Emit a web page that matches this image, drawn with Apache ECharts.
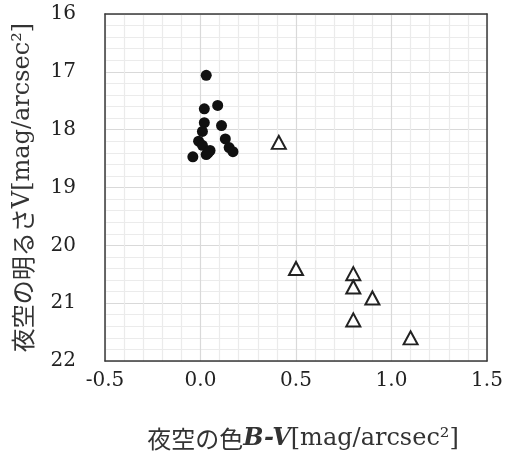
<!DOCTYPE html>
<html>
<head>
<meta charset="utf-8">
<script src="https://cdn.jsdelivr.net/npm/echarts@6/dist/echarts.min.js"></script>
<style>
html,body{margin:0;padding:0;background:#fff;}
#container{width:506px;height:465px;}
</style>
</head>
<body>
<div id="container"></div>
<script>
// 点（●）: 夜空の色 B-V, 明るさ V
var dotBV = [0.03, 0.02, 0.09, 0.02, 0.11, 0.01, 0.13, -0.01, 0.01, 0.15, 0.17, 0.05, 0.03, -0.04, 0.04];
var dotV  = [17.06, 17.64, 17.58, 17.88, 17.93, 18.03, 18.16, 18.20, 18.27, 18.31, 18.38, 18.36, 18.43, 18.47, 18.40];
// 三角（△）
var triBV = [0.41, 0.50, 0.80, 0.80, 0.90, 0.80, 1.10];
var triV  = [18.22, 20.40, 20.49, 20.72, 20.91, 21.29, 21.60];

var xMin = -0.5, xMax = 1.5, xStep = 0.5;
var yMin = 16, yMax = 22, yStep = 1;

function pairs(xs, ys){
	var out = [];
	for(var i=0;i<xs.length;i++){
		out.push([xs[i], ys[i]]);
	}
	return out;
}

var serif = '"DejaVu Serif", "Liberation Serif", serif';
var cjk = '"Noto Sans CJK JP", sans-serif';

var nameRich = {
	c: {fontFamily: cjk, fontSize: 24, color: '#333'},
	i: {fontFamily: serif, fontSize: 24, fontStyle: 'italic', fontWeight: 'bold', color: '#333'},
	n: {fontFamily: serif, fontSize: 24, color: '#333'}
};

var dom = document.getElementById("container");
var myChart = echarts.init(dom);
var option = {
	backgroundColor: '#fff',
	animation: false,
	grid: {
		left: 105,
		right: 19,
		top: 14,
		bottom: 104
	},
	xAxis: [{
		type: 'value',
		min: xMin,
		max: xMax,
		interval: xStep,
		axisLine: {show: true, onZero: false, lineStyle: {color: '#3a3a3a', width: 1.5}},
		axisTick: {show: false},
		axisLabel: {
			margin: 10,
			fontFamily: serif,
			fontSize: 20,
			color: '#222',
			formatter: function(v){ return v.toFixed(1); }
		},
		splitLine: {show: true, lineStyle: {color: '#d9d9d9', width: 1.2}},
		minorTick: {show: false, splitNumber: 5},
		minorSplitLine: {show: true, lineStyle: {color: '#ebebeb', width: 1.2}},
		name: '{c|夜空の色}{i|B-V}{n|[mag/arcsec²]}',
		nameLocation: 'middle',
		nameGap: 66,
		nameTextStyle: {rich: nameRich, padding: [0, 0, 0, 14]}
	}, {
		type: 'value',
		position: 'top',
		min: xMin,
		max: xMax,
		interval: xStep,
		axisLine: {show: true, onZero: false, lineStyle: {color: '#3a3a3a', width: 1.5}},
		axisTick: {show: false},
		axisLabel: {show: false},
		splitLine: {show: false}
	}],
	yAxis: [{
		type: 'value',
		inverse: true,
		min: yMin,
		max: yMax,
		interval: yStep,
		axisLine: {show: true, onZero: false, lineStyle: {color: '#3a3a3a', width: 1.5}},
		axisTick: {show: false},
		axisLabel: {
			margin: 29,
			fontFamily: serif,
			fontSize: 20,
			color: '#222'
		},
		splitLine: {show: true, lineStyle: {color: '#d9d9d9', width: 1.2}},
		minorTick: {show: false, splitNumber: 5},
		minorSplitLine: {show: true, lineStyle: {color: '#ebebeb', width: 1.2}},
		name: '{c|夜空の明るさ}{n|V[mag/arcsec²]}',
		nameLocation: 'middle',
		nameRotate: 90,
		nameGap: 70,
		nameTextStyle: {rich: nameRich}
	}, {
		type: 'value',
		position: 'right',
		inverse: true,
		min: yMin,
		max: yMax,
		interval: yStep,
		axisLine: {show: true, onZero: false, lineStyle: {color: '#3a3a3a', width: 1.5}},
		axisTick: {show: false},
		axisLabel: {show: false},
		splitLine: {show: false}
	}],
	series: [{
		type: 'scatter',
		symbol: 'circle',
		symbolSize: 11,
		itemStyle: {color: '#111', opacity: 1},
		data: pairs(dotBV, dotV)
	}, {
		type: 'scatter',
		symbol: 'triangle',
		symbolSize: [14, 13],
		itemStyle: {color: '#fff', borderColor: '#222', borderWidth: 2, opacity: 1},
		data: pairs(triBV, triV)
	}]
};
myChart.setOption(option, true);
</script>
</body>
</html>
